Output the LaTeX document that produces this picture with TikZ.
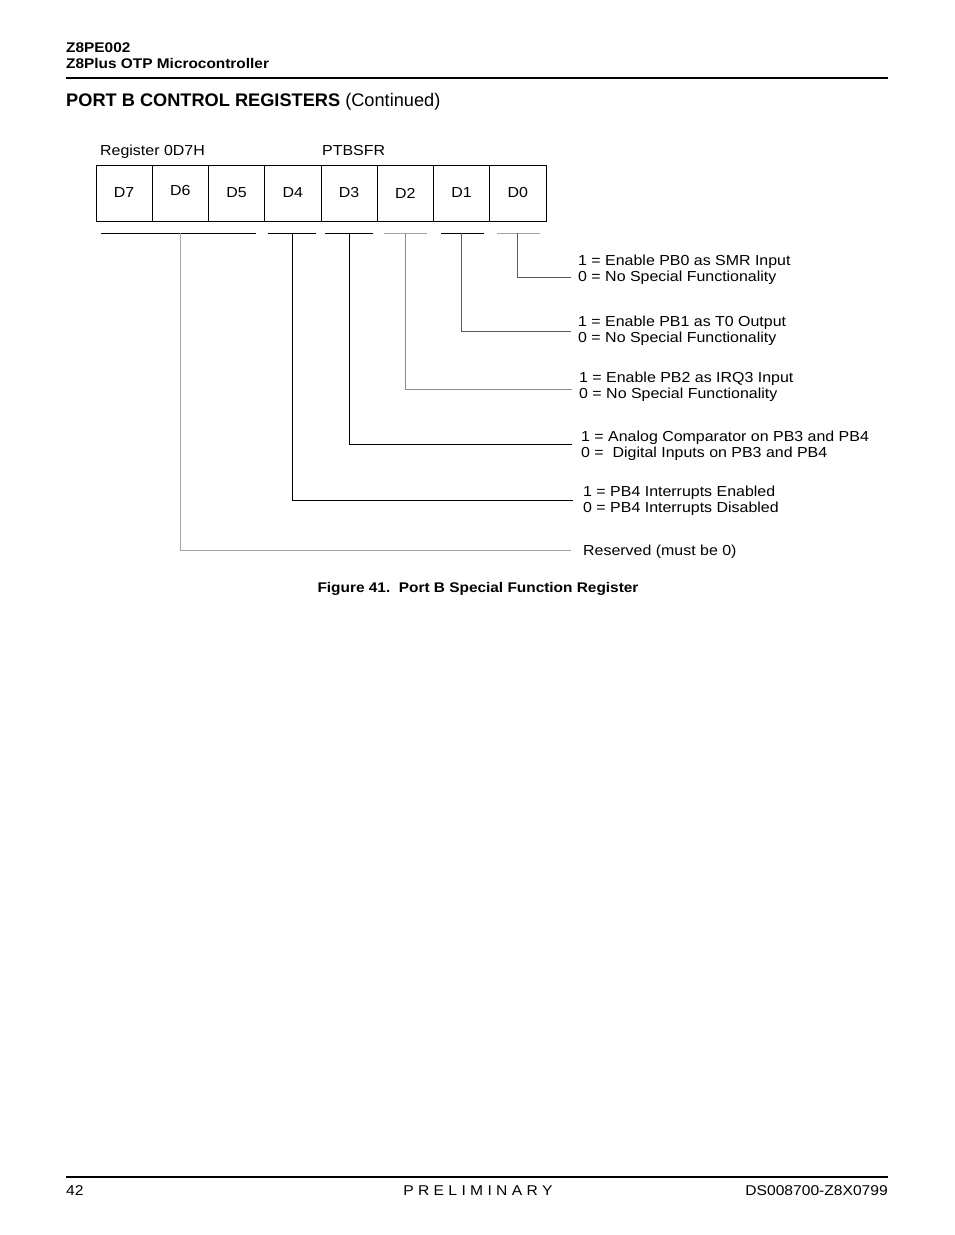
\documentclass[tikz,border=0pt]{standalone}
\usepackage{fontspec}
\setmainfont{Liberation Sans}[FakeStretch=1.1]
\newfontfamily\plainfont{Liberation Sans}
\usetikzlibrary{positioning}
\definecolor{lightline}{RGB}{165,165,165}
\definecolor{darkline}{RGB}{90,90,90}

\begin{document}
\begin{tikzpicture}[x=1pt,y=-1pt,
    bitcell/.style={draw, line width=0.9pt, minimum width=56.25pt, minimum height=56pt, inner sep=0pt, font=\fontsize{14.5}{16}\selectfont},
    desc/.style={anchor=base west, align=left, inner sep=0pt, font=\fontsize{14.5}{16}\selectfont},
    bar/.style={line width=0.9pt},
    link/.style={line width=0.9pt}
  ]
    \useasboundingbox (0,0) rectangle (954,1235);
    % page head
    \node[anchor=base west, inner sep=0pt, font=\fontsize{14}{15}\selectfont\bfseries] (hd1) at (66,52) {Z8PE002};
    \node[anchor=base west, inner sep=0pt, font=\fontsize{14}{15}\selectfont\bfseries] (hd2) at (66,68) {Z8Plus OTP Microcontroller};
    \draw[line width=2.6pt] (66,78) -- (888,78);
    \node[anchor=base west, inner sep=0pt, font=\plainfont\fontsize{18.2}{20}\selectfont] (ttl) at (66,106) {\textbf{PORT B CONTROL REGISTERS} (Continued)};

    % register
    \node[anchor=base west, inner sep=0pt, font=\fontsize{14.5}{16}\selectfont] (regno) at (100,155) {Register 0D7H};
    \node[anchor=base west, inner sep=0pt, font=\fontsize{14.5}{16}\selectfont] (regname) at (322,155) {PTBSFR};
    \node[bitcell] at (124.1,193) (d7) {D7};
    \node[bitcell] at (180.4,193) (d6) {\raisebox{6pt}{D6}};
    \node[bitcell] at (236.6,193) (d5) {D5};
    \node[bitcell] at (292.9,193) (d4) {D4};
    \node[bitcell] at (349.1,193) (d3) {D3};
    \node[bitcell] at (405.4,193) (d2) {D2};
    \node[bitcell] at (461.6,193) (d1) {\raisebox{-4pt}{D1}};
    \node[bitcell] at (517.9,193) (d0) {D0};

    % field bars
    \draw[bar] (101,233) -- (256,233);
    \draw[bar] (268,233) -- (316,233);
    \draw[bar] (325,233) -- (373,233);
    \draw[bar,lightline] (384,233) -- (427,233);
    \draw[bar] (441,233) -- (484,233);
    \draw[bar,lightline] (497,233) -- (540,233);
    \coordinate (s6) at (180.7,233);
    \coordinate (s4) at (292.7,233);
    \coordinate (s3) at (349.3,233);
    \coordinate (s2) at (405,233);
    \coordinate (s1) at (461.7,233);
    \coordinate (s0) at (517,233);

    % descriptions
    \node[desc] (f0) at (578,281.5) {1 = Enable PB0 as SMR Input\\0 = No Special Functionality};
    \node[desc] (f1) at (578,342.5) {1 = Enable PB1 as T0 Output\\0 = No Special Functionality};
    \node[desc] (f2) at (579,398.5) {1 = Enable PB2 as IRQ3 Input\\0 = No Special Functionality};
    \node[desc] (f3) at (581,457) {1 = Analog Comparator on PB3 and PB4\\0 = \ Digital Inputs on PB3 and PB4};
    \node[desc] (f4) at (583,512.5) {1 = PB4 Interrupts Enabled\\0 = PB4 Interrupts Disabled};
    \node[desc] (f6) at (583,555.5) {Reserved (must be 0)};
    \coordinate (e0) at (571,277);
    \coordinate (e1) at (571,331);
    \coordinate (e2) at (572,389);
    \coordinate (e3) at (572,444);
    \coordinate (e4) at (573,500);
    \coordinate (e6) at (571,550);

    % connectors
    \draw[link,darkline] (s0) |- (e0);
    \draw[link,darkline] (s1) |- (e1);
    \draw[link,lightline!85!black] (s2) |- (e2);
    \draw[link] (s3) |- (e3);
    \draw[link] (s4) |- (e4);
    \draw[link,lightline] (s6) |- (e6);

    \node[anchor=base, inner sep=0pt, font=\fontsize{14}{15}\selectfont\bfseries] (cap) at (478,592) {Figure 41.\ \ Port B Special Function Register};

    % page foot
    \draw[line width=2.6pt] (66,1177) -- (888,1177);
    \node[anchor=base west, inner sep=0pt, font=\fontsize{14.2}{16}\selectfont] (pg) at (66,1195) {42};
    \node[anchor=base, inner sep=0pt, font=\fontsize{14.2}{16}\selectfont] (prel) at (478,1195) {P R E L I M I N A R Y};
    \node[anchor=base east, inner sep=0pt, font=\fontsize{14.2}{16}\selectfont] (doc) at (888,1195) {DS008700-Z8X0799};
\end{tikzpicture}
\end{document}
